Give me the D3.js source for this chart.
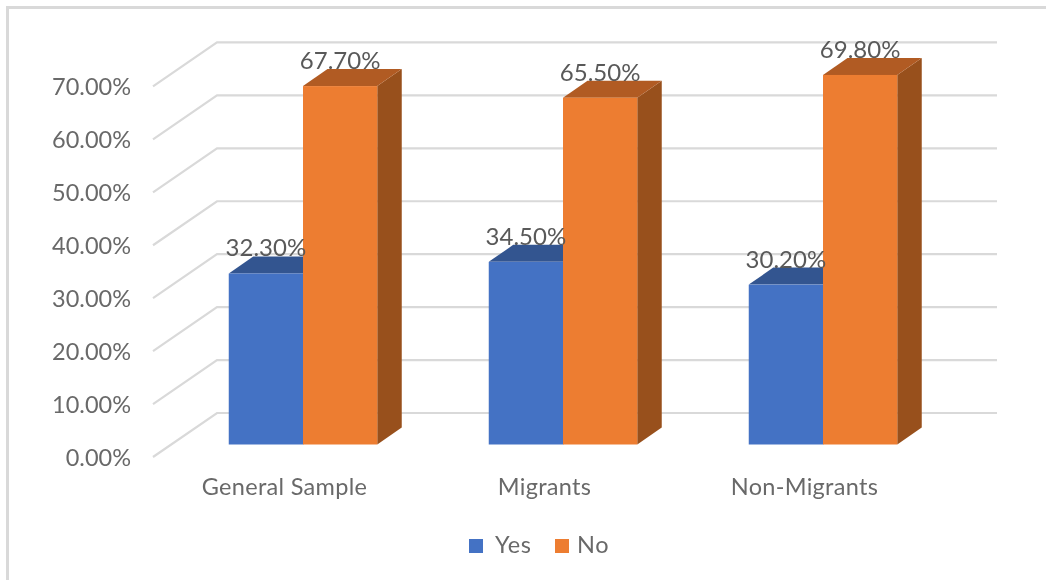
<!DOCTYPE html>
<html><head><meta charset="utf-8">
<script src="https://cdnjs.cloudflare.com/ajax/libs/d3/7.8.5/d3.min.js"></script>
<style>html,body{margin:0;padding:0;background:#fff}svg{display:block;filter:blur(0.5px)}text{font-family:Lato,sans-serif}</style>
</head><body><svg id="c" width="1046" height="580"></svg>
<script>
const categories=["General Sample","Migrants","Non-Migrants"];
const seriesNames=["Yes","No"];
const yesValues=[32.3,34.5,30.2];
const noValues=[67.7,65.5,69.8];
const tickValues=[0,10,20,30,40,50,60,70];
const seriesColors=["#4472c4","#ed7d31"];
const topColors=["#335590","#b15b23"];
const sideColors=["#2a4a80","#98501c"];

const svg=d3.select("#c");
svg.append("path").attr("d","M1046,7.5H7.5V580").attr("fill","none").attr("stroke","#d9d9d9").attr("stroke-width",3);

const y=d3.scaleLinear().domain([0,70]).range([444.5,73.9]);
const x0=d3.scaleBand().domain(categories).range([173,953]);
const x1=d3.scaleBand().domain(seriesNames).range([0,148.5]);
const gridFrontX=153,gridBackX=217,gridEnd=997,gridFrontShift=12.5,gridBackShift=-31.5;
const dx=24.5,dy=17;

const grid=svg.append("g");
tickValues.forEach(t=>{
  const yy=y(t);
  grid.append("path").attr("d",`M${gridFrontX},${yy+gridFrontShift}L${gridBackX},${yy+gridBackShift}H${gridEnd}`)
    .attr("fill","none").attr("stroke","#d9d9d9").attr("stroke-width",2.2);
});
svg.append("g").selectAll("text").data(tickValues).join("text")
  .attr("x",131).attr("y",t=>y(t)+21.5).attr("text-anchor","end")
  .attr("font-size",23.5).attr("fill","#696969").text(t=>d3.format(".2f")(t)+"%");

function bar(g,cx,w,v,i){
  const top=y(v),base=y(0);
  g.append("path").attr("d",`M${cx+w},${top}l${dx},${-dy}V${base-dy}l${-dx},${dy}Z`).attr("fill",sideColors[i]);
  g.append("path").attr("d",`M${cx},${top}l${dx},${-dy}H${cx+w+dx}l${-dx},${dy}Z`).attr("fill",topColors[i]);
  g.append("rect").attr("x",cx).attr("y",top).attr("width",w).attr("height",base-top).attr("fill",seriesColors[i]);
}
const bars=svg.append("g"),labels=svg.append("g");
categories.forEach((c,k)=>{
  [yesValues,noValues].forEach((vals,i)=>{
    const cx=x0(c)+(x0.bandwidth()-148.5)/2+x1(seriesNames[i]);
    bar(bars,cx,x1.bandwidth(),vals[k],i);
    labels.append("text").attr("x",cx+x1.bandwidth()/2).attr("y",y(vals[k])-17)
      .attr("text-anchor","middle").attr("font-size",24).attr("fill","#595959")
      .text(d3.format(".2f")(vals[k])+"%");
  });
  svg.append("text").attr("x",x0(c)+x0.bandwidth()/2-18.5).attr("y",495).attr("text-anchor","middle")
    .attr("font-size",23.5).attr("letter-spacing",0.3).attr("fill","#696969").text(c);
});
const leg=svg.append("g");
[[469,495],[555,577]].forEach((p,i)=>{
  leg.append("rect").attr("x",p[0]).attr("y",539).attr("width",14).attr("height",14).attr("fill",seriesColors[i]);
  leg.append("text").attr("x",p[1]).attr("y",553).attr("font-size",23.5).attr("letter-spacing",0.6).attr("fill","#696969").text(seriesNames[i]);
});
</script></body></html>
